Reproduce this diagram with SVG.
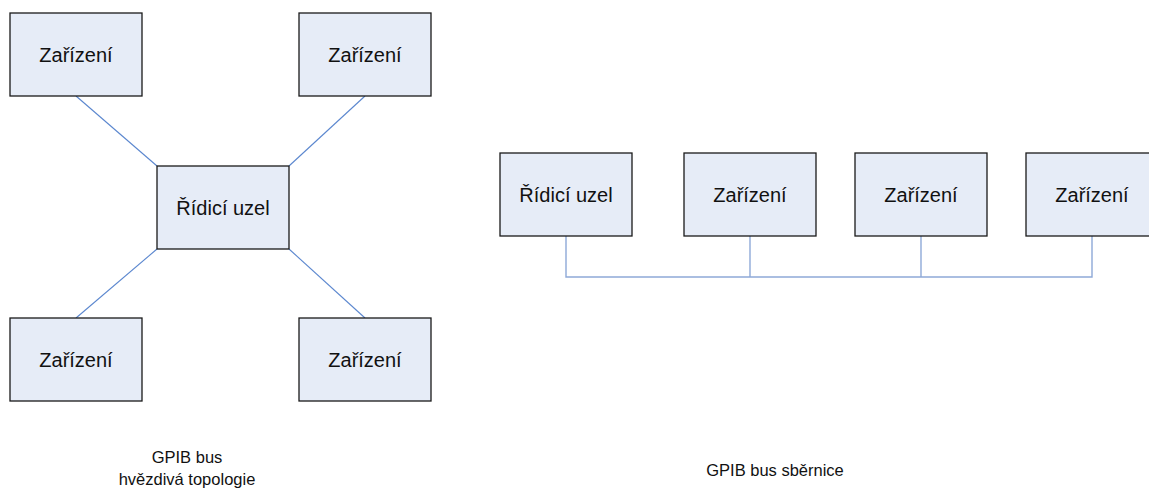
<svg xmlns="http://www.w3.org/2000/svg" width="1149" height="491" viewBox="0 0 1149 491">
  <style>
    .box { fill: #E6ECF7; stroke: #1a1a1a; stroke-width: 1.3; }
    .lbl { font-family: "Liberation Sans", Arial, sans-serif; font-size: 20px; fill: #111; text-anchor: middle; }
    .cap { font-family: "Liberation Sans", Arial, sans-serif; font-size: 16.5px; fill: #111; text-anchor: middle; }
    .star { stroke: #5B87CF; stroke-width: 1.1; fill: none; }
    .bus { stroke: #8EA9D8; stroke-width: 1.4; fill: none; }
  </style>
  <rect width="1149" height="491" fill="#fff"/>

  <!-- connectors -->
  <g id="connectors">
    <line class="star" x1="76" y1="96" x2="157" y2="166"/>
    <line class="star" x1="365" y1="96" x2="289" y2="166"/>
    <line class="star" x1="157" y1="249" x2="76" y2="318"/>
    <line class="star" x1="289" y1="249" x2="365" y2="318"/>
    <polyline class="bus" points="566,236 566,277 1092,277 1092,236"/>
    <line class="bus" x1="750" y1="236" x2="750" y2="277"/>
    <line class="bus" x1="921" y1="236" x2="921" y2="277"/>
  </g>

  <!-- star topology -->
  <g id="star-dev-tl">
    <rect class="box" x="10" y="13" width="132" height="83"/>
    <text class="lbl" x="76" y="62">Zařízení</text>
  </g>
  <g id="star-dev-tr">
    <rect class="box" x="299" y="13" width="132" height="83"/>
    <text class="lbl" x="365" y="62">Zařízení</text>
  </g>
  <g id="star-ctrl">
    <rect class="box" x="157" y="166" width="132" height="83"/>
    <text class="lbl" x="223" y="215">Řídicí uzel</text>
  </g>
  <g id="star-dev-bl">
    <rect class="box" x="10" y="318" width="132" height="83"/>
    <text class="lbl" x="76" y="367">Zařízení</text>
  </g>
  <g id="star-dev-br">
    <rect class="box" x="299" y="318" width="132" height="83"/>
    <text class="lbl" x="365" y="367">Zařízení</text>
  </g>

  <!-- bus topology -->
  <g id="bus-ctrl">
    <rect class="box" x="500" y="153" width="132" height="83"/>
    <text class="lbl" x="566" y="202">Řídicí uzel</text>
  </g>
  <g id="bus-dev-1">
    <rect class="box" x="684" y="153" width="132" height="83"/>
    <text class="lbl" x="750" y="202">Zařízení</text>
  </g>
  <g id="bus-dev-2">
    <rect class="box" x="855" y="153" width="132" height="83"/>
    <text class="lbl" x="921" y="202">Zařízení</text>
  </g>
  <g id="bus-dev-3">
    <rect class="box" x="1026" y="153" width="132" height="83"/>
    <text class="lbl" x="1092" y="202">Zařízení</text>
  </g>

  <!-- captions -->
  <g id="caption-star">
    <text class="cap" x="187" y="463">GPIB bus</text>
    <text class="cap" x="187" y="485">hvězdivá topologie</text>
  </g>
  <g id="caption-bus">
    <text class="cap" x="775" y="476">GPIB bus sběrnice</text>
  </g>
</svg>
